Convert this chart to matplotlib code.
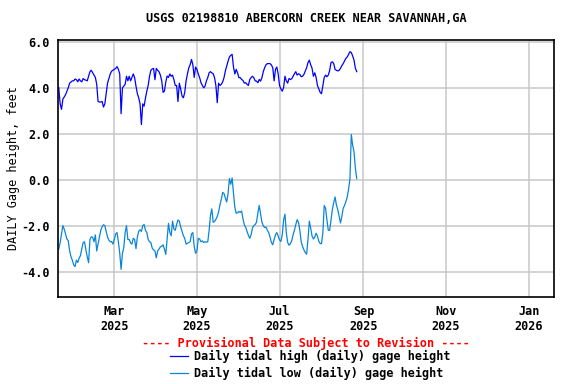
import pandas as pd
import matplotlib
matplotlib.use("Agg")
import matplotlib.pyplot as plt
from matplotlib.lines import Line2D


title = "USGS 02198810 ABERCORN CREEK NEAR SAVANNAH,GA"
ylabel = "DAILY Gage height, feet"
provisional = "---- Provisional Data Subject to Revision ----"
label_high = "Daily tidal high (daily) gage height"
label_low = "Daily tidal low (daily) gage height"

start_date = "2025-01-19"

# daily tidal high, feet
high = [
    4.0, 3.3, 3.06, 3.5, 3.6, 3.7, 3.85, 4.0, 4.2, 4.25,
    4.3, 4.3, 4.38, 4.35, 4.26, 4.38, 4.3, 4.26, 4.4, 4.35,
    4.33, 4.3, 4.5, 4.7, 4.76, 4.65, 4.55, 4.45, 4.15, 3.4,
    3.38, 3.38, 3.4, 3.16, 3.3, 3.75, 4.2, 4.4, 4.6, 4.72,
    4.76, 4.8, 4.84, 4.92, 4.8, 4.6, 2.87, 4.0, 4.07, 4.15,
    4.5, 4.3, 4.5, 4.3, 4.45, 4.6, 4.44, 4.07, 3.75, 3.56,
    3.3, 2.4, 3.3, 3.2, 3.55, 3.85, 4.1, 4.5, 4.76, 4.82,
    4.84, 4.35, 4.84, 4.76, 4.7, 4.55, 4.3, 3.8, 3.85, 4.25,
    4.51, 4.45, 4.6, 4.5, 4.55, 4.35, 4.1, 4.1, 3.4, 4.2,
    3.95, 3.64, 3.56, 3.8, 4.3, 4.6, 4.87, 5.0, 5.23, 5.0,
    4.45, 4.9, 4.8, 4.6, 4.44, 4.22, 4.1, 4.0, 4.07, 4.3,
    4.44, 4.65, 4.7, 4.65, 4.61, 4.44, 4.1, 3.35, 4.2, 4.1,
    4.15, 4.25, 4.44, 4.73, 4.94, 5.16, 5.34, 5.41, 5.45, 4.9,
    4.6, 4.8, 4.65, 4.44, 4.44, 4.36, 4.32, 4.2, 4.22, 4.15,
    4.1, 4.36, 4.44, 4.5, 4.44, 4.3, 4.29, 4.22, 4.36, 4.29,
    4.44, 4.7, 4.87, 5.0, 5.05, 5.05, 5.05, 4.99, 4.87, 4.3,
    4.8, 4.9, 4.6, 4.1, 3.95, 3.85, 4.0, 4.5, 4.3, 4.2,
    4.4, 4.36, 4.39, 4.5, 4.61, 4.7, 4.55, 4.61, 4.58, 4.48,
    4.5, 4.58, 4.73, 4.87, 5.09, 5.2, 5.0, 4.85, 4.5, 4.65,
    4.45, 4.1, 3.95, 3.8, 3.74, 4.1, 4.45, 4.55, 4.48, 4.55,
    4.75, 5.09, 5.13, 5.05, 4.8, 4.76, 4.73, 4.76, 4.84, 4.96,
    5.05, 5.16, 5.28, 5.34, 5.45, 5.57, 5.53, 5.38, 5.2, 4.85, 4.7,
]

# daily tidal low, feet
low = [
    -3.02, -2.73, -2.35, -2.0, -2.15, -2.36, -2.58, -2.65, -3.1, -3.35,
    -3.5, -3.71, -3.78, -3.5, -3.6, -3.42, -3.3, -3.0, -2.73, -2.7,
    -3.05, -3.35, -3.61, -2.6, -2.48, -2.51, -2.7, -2.4, -3.1, -2.8,
    -2.5, -2.2, -2.05, -1.96, -2.0, -2.25, -2.5, -2.63, -2.7, -2.69,
    -2.8, -2.6, -2.36, -2.3, -2.7, -3.2, -3.9, -3.2, -2.95, -2.3,
    -2.0, -2.6, -2.6, -2.75, -2.8, -2.55, -2.6, -3.0, -2.5, -2.25,
    -2.18, -2.25, -2.0, -1.95, -2.2, -2.29, -2.6, -2.7, -2.73, -2.98,
    -3.05, -3.1, -3.4, -3.1, -3.02, -2.92, -2.9, -2.83, -3.02, -3.25,
    -2.6, -1.9, -2.3, -2.44, -1.8, -2.15, -2.2, -1.95, -1.75, -1.8,
    -2.05, -2.25, -2.44, -2.55, -2.8, -2.77, -2.73, -2.7, -2.36, -2.3,
    -2.9, -3.2, -3.1, -2.55, -2.58, -2.7, -2.66, -2.73, -2.7, -2.72,
    -2.7, -2.2, -1.55, -1.27, -1.85, -1.82, -1.72, -1.6, -1.4, -1.1,
    -0.85, -0.55, -0.6, -0.8, -0.97, -0.6, 0.05, -0.2, 0.08, -0.6,
    -1.2, -1.46, -1.44, -1.38, -1.42, -1.36, -1.7, -1.96, -2.07, -2.25,
    -2.42, -2.55, -2.4, -2.1, -2.0, -1.95, -1.85, -1.45, -1.12, -1.5,
    -1.85, -2.0, -2.08, -2.06, -2.2, -2.3, -2.5, -2.73, -2.83, -2.6,
    -2.4, -2.3, -2.45, -2.62, -2.69, -2.4, -1.75, -1.5, -2.3, -2.73,
    -2.85, -2.78, -2.66, -2.4, -2.2, -1.95, -1.74, -1.85, -2.2, -2.7,
    -2.9, -3.05, -3.17, -3.24, -2.6, -1.8, -2.1, -2.45, -2.58, -2.5,
    -2.33, -2.45, -2.68, -2.78, -2.78, -2.3, -1.12, -1.25, -1.75, -2.2,
    -2.2, -1.75, -1.3, -1.0, -0.75, -1.1, -1.3, -1.6, -1.88, -1.6,
    -1.24, -1.12, -0.95, -0.75, -0.4, 0.04, 1.97, 1.5, 1.21, 0.5, 0.05,
]

yticks = [-4.0, -2.0, 0.0, 2.0, 4.0, 6.0]
xticks = ["2025-03-01", "2025-05-01", "2025-07-01", "2025-09-01", "2025-11-01", "2026-01-01"]

dates = pd.date_range(start_date, periods=len(high), freq="D")

plt.rcParams["font.family"] = ["DejaVu Sans Mono"]
plt.rcParams["font.weight"] = "bold"
plt.rcParams["font.size"] = 8.5

fig = plt.figure(figsize=(5.76, 3.84), dpi=100)
ax = fig.add_axes([0.1007, 0.2273, 0.8611, 0.6693])

ax.plot(dates, high, color="#0000ff", lw=0.9)
ax.plot(dates, low, color="#0a86d8", lw=0.9)

ax.set_xlim(pd.Timestamp("2025-01-18 10:00"), pd.Timestamp("2026-01-19 16:00"))
ax.set_ylim(-5.09, 6.09)

ax.set_yticks(yticks)
ax.set_yticklabels([f"{v:.1f}" for v in yticks])
tick_dates = pd.to_datetime(xticks)
ax.set_xticks(tick_dates)
ax.set_xticklabels([d.strftime("%b\n%Y") for d in tick_dates], linespacing=1.15)

ax.grid(True, color="#c8c8c8", lw=1.1)
ax.set_axisbelow(True)
ax.tick_params(length=0, pad=6)
for s in ax.spines.values():
    s.set_linewidth(1.2)

ax.set_ylabel(ylabel, labelpad=1)
fig.text(0.531, 0.953, title, ha="center", va="center")

fig.text(0.531, 0.106, provisional, ha="center", va="center", color="#ff0000")
handles = [Line2D([], [], color="#0000ff", lw=0.9),
           Line2D([], [], color="#0a86d8", lw=0.9)]
fig.legend(handles, [label_high, label_low], loc="upper left",
           bbox_to_anchor=(0.296, 0.088), frameon=False, borderpad=0,
           borderaxespad=0, handlelength=1.5, handletextpad=0.45,
           labelspacing=0.3)

fig.savefig("out.png", dpi=100)
